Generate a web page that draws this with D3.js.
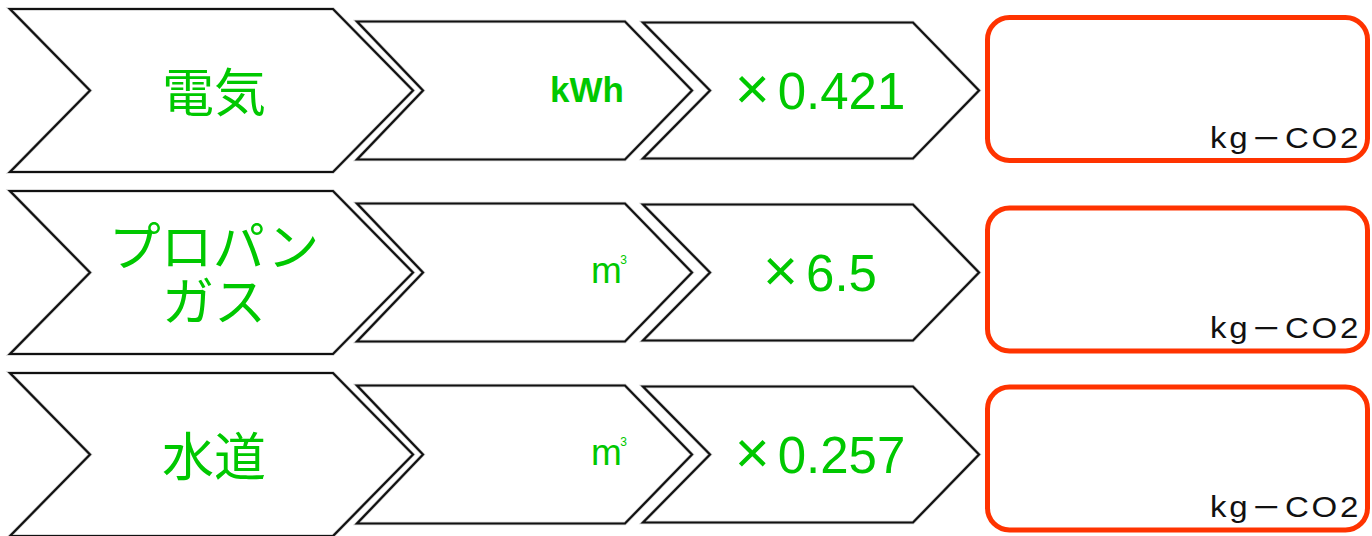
<!DOCTYPE html>
<html>
<head>
<meta charset="utf-8">
<script src="https://cdn.jsdelivr.net/npm/d3@7/dist/d3.min.js"></script>
<style>
  html, body { margin: 0; padding: 0; background: #ffffff; }
  svg { display: block; }
</style>
</head>
<body>
<svg id="chart" width="1372" height="536"></svg>
<script>
// ---- data ----
const categories = ["電気", "プロパンガス", "水道"];
const categoryLines = [["電気"], ["プロパン", "ガス"], ["水道"]];
const units = ["kWh", "m", "m"];
const unitSup = ["", "3", "3"];
const factors = [0.421, 6.5, 0.257];
const factorLabels = ["0.421", "6.5", "0.257"];
const resultUnitParts = ["kg", "ー", "CO2"];

// ---- layout ----
const green = "#00c800";
const red = "#ff3300";
const svg = d3.select("#chart");

const y = d3.scalePoint().domain(categories).range([90.5, 454.5]);
const boxShift = [-1.5, 7, 4];

// chevron geometry: x start, x top-right, half height, tip depth, notch depth
const chevrons = [
  { x0: 10,  x1: 333, hh: 81.5, tip: 80, notch: 80 },
  { x0: 357, x1: 625, hh: 69,   tip: 67, notch: 66 },
  { x0: 643, x1: 913, hh: 68,   tip: 66, notch: 67 }
];

function chevronPath(c, cy) {
  const p = d3.path();
  p.moveTo(c.x0, cy - c.hh);
  p.lineTo(c.x1, cy - c.hh);
  p.lineTo(c.x1 + c.tip, cy);
  p.lineTo(c.x1, cy + c.hh);
  p.lineTo(c.x0, cy + c.hh);
  p.lineTo(c.x0 + c.notch, cy);
  p.closePath();
  return p.toString();
}

const rows = svg.selectAll("g.row")
  .data(categories)
  .join("g")
  .attr("class", "row");

rows.each(function (cat, i) {
  const g = d3.select(this);
  const cy = y(cat);

  // chevrons
  chevrons.forEach(c => {
    g.append("path")
      .attr("d", chevronPath(c, cy))
      .attr("fill", "#ffffff")
      .attr("stroke", "#d0d0d0")
      .attr("stroke-width", 3.6)
      .attr("stroke-linejoin", "miter");
    g.append("path")
      .attr("d", chevronPath(c, cy))
      .attr("fill", "none")
      .attr("stroke", "#111")
      .attr("stroke-width", 2.2)
      .attr("stroke-linejoin", "miter");
  });

  // result box
  const bcy = cy + boxShift[i];
  g.append("rect")
    .attr("x", 987.5)
    .attr("y", bcy - 71.5)
    .attr("width", 380)
    .attr("height", 143)
    .attr("rx", 22)
    .attr("ry", 22)
    .attr("fill", "#ffffff")
    .attr("stroke", red)
    .attr("stroke-width", 5);

  const rt = g.append("text")
    .attr("transform", `translate(1361,${bcy + 58.5}) scale(1.1,1)`)
    .attr("text-anchor", "end")
    .attr("font-family", "'Liberation Sans', Arial, sans-serif")
    .attr("font-size", 30)
    .attr("letter-spacing", 2.5)
    .attr("fill", "#111");
  rt.append("tspan").text(resultUnitParts[0]);
  rt.append("tspan")
    .attr("font-family", "'Noto Sans CJK JP', sans-serif")
    .attr("font-size", 25)
    .attr("dx", 2)
    .text(resultUnitParts[1]);
  rt.append("tspan").attr("dx", 2).text(resultUnitParts[2]);

  // category label
  const lines = categoryLines[i];
  const ct = g.append("text")
    .attr("text-anchor", "middle")
    .attr("font-family", "'Noto Sans CJK JP', sans-serif")
    .attr("font-size", 52)
    .attr("fill", green);
  if (lines.length === 1) {
    ct.append("tspan").attr("x", 214).attr("y", cy + 21.5).text(lines[0]);
  } else {
    ct.append("tspan").attr("x", 214).attr("y", cy - 7).text(lines[0]);
    ct.append("tspan").attr("x", 214).attr("y", cy + 48).text(lines[1]);
  }

  // unit label
  if (unitSup[i]) {
    const t = g.append("text")
      .attr("x", 591)
      .attr("y", cy + 10.5)
      .attr("font-family", "'Liberation Sans', Arial, sans-serif")
      .attr("font-size", 37)
      .attr("fill", green);
    t.append("tspan").text(units[i]);
    t.append("tspan")
      .attr("font-size", 12)
      .attr("dy", -19.5)
      .attr("dx", -1.5)
      .text(unitSup[i]);
  } else {
    g.append("text")
      .attr("x", 624)
      .attr("y", cy + 11.5)
      .attr("text-anchor", "end")
      .attr("font-family", "'Liberation Sans', Arial, sans-serif")
      .attr("font-weight", "bold")
      .attr("font-size", 35)
      .attr("fill", green)
      .text(units[i]);
  }

  // factor label
  const ft = g.append("text")
    .attr("x", 820)
    .attr("y", cy + 18)
    .attr("text-anchor", "middle")
    .attr("font-family", "'Liberation Sans', Arial, sans-serif")
    .attr("fill", green);
  ft.append("tspan").attr("font-size", 60).text("×");
  ft.append("tspan").attr("font-size", 51).attr("dx", 8).text(factorLabels[i]);
});
</script>
</body>
</html>
